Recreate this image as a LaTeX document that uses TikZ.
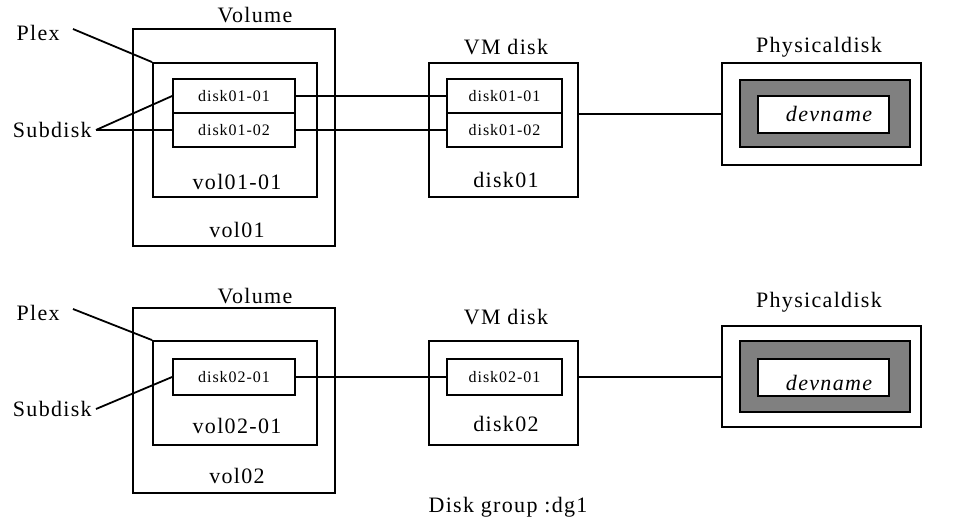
\documentclass[tikz,border=0pt]{standalone}
\usepackage{fontspec}
\setmainfont{Liberation Serif}[LetterSpace=6]

\begin{document}
\begin{tikzpicture}[x=1pt, y=-1pt, line width=1.8pt,
	box/.style={draw, rectangle, inner sep=0pt},
	big/.style={font=\fontsize{22}{24}\selectfont},
	small/.style={font=\fontsize{16}{18}\selectfont}]
	\useasboundingbox (0,0) rectangle (968,522);

	% upper row: vol01
	\node [box, minimum width=202pt, minimum height=217pt] (vol1) at (234,137.5) {};
	\node [box, minimum width=164pt, minimum height=134pt] (plex1) at (235,130) {};
	\node [box, small, minimum width=122pt, minimum height=34pt] (sd11) at (234,96) {disk01-01};
	\node [box, small, minimum width=122pt, minimum height=34pt] (sd12) at (234,130) {disk01-02};
	\node [big] (vollbl1) at (255,15) {Volume};
	\node [big] (plexname1) at (237,182) {vol01-01};
	\node [big] (volname1) at (237,230) {vol01};

	\node [box, minimum width=149pt, minimum height=134pt] (vm1) at (503.5,130) {};
	\node [box, small, minimum width=115pt, minimum height=34pt] (vsd11) at (504.5,96) {disk01-01};
	\node [box, small, minimum width=115pt, minimum height=34pt] (vsd12) at (504.5,130) {disk01-02};
	\node [big] (vmlbl1) at (506,47) {VM disk};
	\node [big] (vmname1) at (506,180) {disk01};

	\node [box, minimum width=199pt, minimum height=102pt] (phys1) at (821.5,114) {};
	\node [box, fill=gray, minimum width=170pt, minimum height=67pt] (dev1) at (825,113.5) {};
	\node [box, fill=white, minimum width=131pt, minimum height=37pt] (devin1) at (823.5,114.5) {};
	\node [big] (devname1) at (829,114) {\itshape devname};
	\node [big] (physlbl1) at (819,47) {Physicaldisk};

	\node [big, anchor=east] (plexlbl1) at (64,33) {Plex};
	\node [big, anchor=east] (sdlbl1) at (96,130) {Subdisk};

	\draw (73,29) -- (plex1.north west);
	\draw (sdlbl1.east) -- (sd11.west);
	\draw (sdlbl1.east) -- (sd12.west);
	\draw (sd11.east) -- (vsd11.west);
	\draw (sd12.east) -- (vsd12.west);
	\draw (vsd11.south -| vm1.east) -- (vsd11.south -| phys1.west);

	% lower row: vol02
	\node [box, minimum width=202pt, minimum height=185pt] (vol2) at (234,400.5) {};
	\node [box, minimum width=164pt, minimum height=104pt] (plex2) at (235,393) {};
	\node [box, small, minimum width=122pt, minimum height=36pt] (sd21) at (234,377) {disk02-01};
	\node [big] (vollbl2) at (255,296) {Volume};
	\node [big] (plexname2) at (237,426) {vol02-01};
	\node [big] (volname2) at (237,476) {vol02};

	\node [box, minimum width=149pt, minimum height=104pt] (vm2) at (503.5,393) {};
	\node [box, small, minimum width=115pt, minimum height=36pt] (vsd21) at (504.5,377) {disk02-01};
	\node [big] (vmlbl2) at (506,317) {VM disk};
	\node [big] (vmname2) at (506,424) {disk02};

	\node [box, minimum width=199pt, minimum height=101pt] (phys2) at (821.5,376.5) {};
	\node [box, fill=gray, minimum width=170pt, minimum height=71pt] (dev2) at (825,376.5) {};
	\node [box, fill=white, minimum width=131pt, minimum height=37pt] (devin2) at (823.5,377.5) {};
	\node [big] (devname2) at (829,383) {\itshape devname};
	\node [big] (physlbl2) at (819,302) {Physicaldisk};

	\node [big, anchor=east] (plexlbl2) at (64,313) {Plex};
	\node [big, anchor=east] (sdlbl2) at (96,409) {Subdisk};

	\draw (73,309) -- (plex2.north west);
	\draw (sdlbl2.east) -- (sd21.west);
	\draw (sd21.east) -- (vsd21.west);
	\draw (vsd21 -| vm2.east) -- (vsd21 -| phys2.west);

	\node [big] (dglbl) at (508,507) {Disk group :dg1};
\end{tikzpicture}
\end{document}
